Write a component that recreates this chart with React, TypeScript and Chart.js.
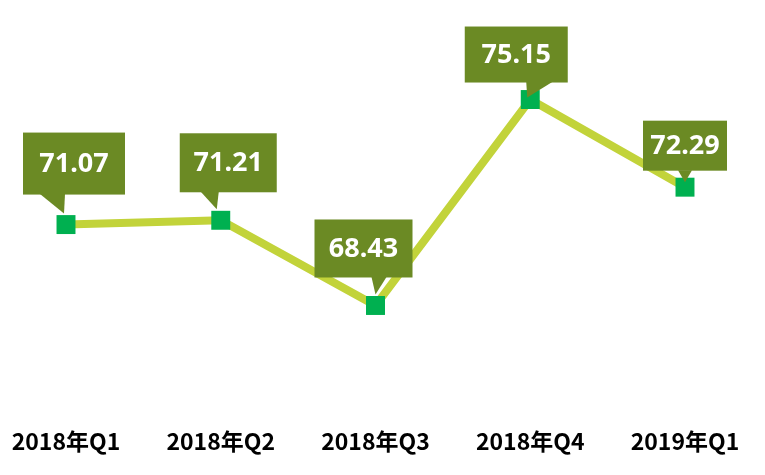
import React, { useEffect, useRef } from "react";
import { Chart, registerables } from "chart.js";

Chart.register(...registerables);

const categories = ["2018年Q1", "2018年Q2", "2018年Q3", "2018年Q4", "2019年Q1"];
const values = [71.07, 71.21, 68.43, 75.15, 72.29];
const yMin = 65.17;
const yMax = 77.96;

// Callout box placement relative to each point (styling only)
const calloutLayout = [
  { dx: 8, gap: 30, w: 102, h: 62, base: [-26, -1], tip: [-2, -11] },
  { dx: 7.5, gap: 28, w: 97, h: 59, base: [-20, -2], tip: [-4, -11] },
  { dx: -12, gap: 28, w: 98, h: 58, base: [-4, 11], tip: [0, -11] },
  { dx: -14, gap: 17, w: 103, h: 56, base: [-4, 22], tip: [-3, -2] },
  { dx: 0, gap: 16.5, w: 84, h: 50, base: [-7, 7], tip: [0, -5] },
];

const BOX_COLOR = "#6b8a24";
const LINE_COLOR = "#c2d33a";
const MARKER_COLOR = "#00b050";

const calloutPlugin = {
  id: "callouts",
  afterDatasetsDraw(chart: any) {
    const meta = chart.getDatasetMeta(0);
    const ctx = chart.ctx;
    ctx.save();
    meta.data.forEach((pt: any, i: number) => {
      const L = calloutLayout[i];
      const x = pt.x;
      const y = pt.y;
      const bottom = y - L.gap;
      const left = x + L.dx - L.w / 2;
      const top = bottom - L.h;
      ctx.fillStyle = BOX_COLOR;
      ctx.fillRect(left, top, L.w, L.h);
      ctx.beginPath();
      ctx.moveTo(x + L.base[0], bottom - 0.5);
      ctx.lineTo(x + L.base[1], bottom - 0.5);
      ctx.lineTo(x + L.tip[0], y + L.tip[1]);
      ctx.closePath();
      ctx.fill();
      ctx.fillStyle = "#ffffff";
      ctx.font = "bold 27px 'Noto Sans', sans-serif";
      ctx.textAlign = "center";
      ctx.textBaseline = "middle";
      ctx.fillText(values[i].toFixed(2), left + L.w / 2, top + L.h / 2 + 1);
    });
    ctx.restore();
  },
};

export default function App() {
  const ref = useRef<HTMLCanvasElement>(null);
  useEffect(() => {
    if (!ref.current) return;
    const chart = new Chart(ref.current, {
      type: "line",
      data: {
        labels: categories,
        datasets: [
          {
            data: values,
            borderColor: LINE_COLOR,
            borderWidth: 8,
            tension: 0,
            pointStyle: "rect",
            pointRadius: 13.4,
            pointHoverRadius: 13.4,
            pointBackgroundColor: MARKER_COLOR,
            pointBorderWidth: 0,
            clip: false as any,
          },
        ],
      },
      options: {
        animation: false,
        responsive: true,
        maintainAspectRatio: false,
        layout: { padding: { left: 66, right: 80, top: 5.5, bottom: 0 } },
        plugins: { legend: { display: false }, tooltip: { enabled: false } },
        scales: {
          x: {
            offset: false,
            grid: { display: false, drawTicks: false },
            border: { display: false },
            afterFit: (scale: any) => {
              scale.paddingLeft = 0;
              scale.paddingRight = 0;
              scale.height -= 3;
            },
            ticks: {
              padding: 22.5,
              color: "#000000",
              font: { family: "'Noto Sans CJK SC', sans-serif", size: 23, weight: "bold" },
              maxRotation: 0,
            },
          },
          y: { display: false, min: yMin, max: yMax },
        },
      },
      plugins: [calloutPlugin],
    });
    return () => chart.destroy();
  }, []);
  return (
    <div style={{ position: "absolute", left: 0, top: 0, width: 765, height: 475 }}>
      <canvas ref={ref} />
    </div>
  );
}
